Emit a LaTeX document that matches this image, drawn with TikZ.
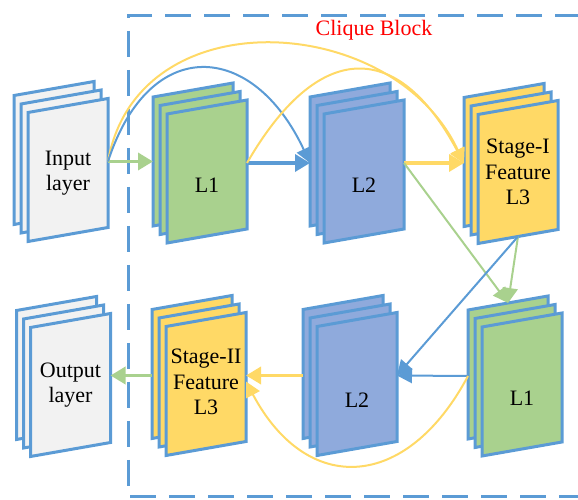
\documentclass[tikz,border=0pt]{standalone}
\usepackage{fontspec}
\setmainfont{Liberation Serif}
\usetikzlibrary{arrows.meta}

\definecolor{edgeblue}{RGB}{91,155,213}
\definecolor{l1green}{RGB}{169,209,142}
\definecolor{l2blue}{RGB}{143,170,220}
\definecolor{l3yellow}{RGB}{255,217,102}
\definecolor{iogray}{RGB}{242,242,242}

% three stacked sheets, #2,#3 = centre of the front sheet, #6 = shift of the label
\newcommand{\layerstack}[6]{%
  \foreach \k in {2,1,0}
    \filldraw[sheet, fill=#4]
      ({#2-40-7*\k},{#3-71.5+8.5*\k}) -- ({#2+40-7*\k},{#3-57.5+8.5*\k})
      -- ({#2+40-7*\k},{#3+71.5+8.5*\k}) -- ({#2-40-7*\k},{#3+57.5+8.5*\k}) -- cycle;
  \node[stackarea] (#1) at ({#2-7},{#3+8.5}) {};
  \coordinate (#1-top) at ({#2-14},{#3+81.5});
  \coordinate (#1-bot) at (#2,{#3-64.5});
  \node[stacklabel, yshift=#6] (#1-txt) at (#2,#3) {#5};
}

\begin{document}
\begin{tikzpicture}[x=1pt, y=1pt,
    sheet/.style={draw=edgeblue, line width=3pt, line join=miter},
    stackarea/.style={minimum width=94pt, minimum height=160pt, inner sep=0pt, outer sep=0pt},
    stacklabel/.style={font=\fontsize{22}{25.5}\selectfont, align=center, inner sep=0pt},
    thickarr/.style={line width=3.5pt, -{Triangle[length=15pt, width=17pt]}},
    thinarr/.style={line width=2pt, -{Triangle[length=15pt, width=15pt]}},
    frame/.style={draw=edgeblue, line width=3pt, dash pattern=on 26pt off 13pt}]

    \useasboundingbox (0,0) rectangle (578,500);

    % Clique block frame
    \draw[frame] (620,484) -- (128,484) -- (128,3) -- (620,3);
    \node[text=red, font=\fontsize{22}{25.5}\selectfont] (blocktitle) at (374,470) {Clique Block};

    % Stage I
    \layerstack{inlayer}{68}{330}{iogray}{Input\\layer}{-3pt}
    \layerstack{l1a}{207}{328.5}{l1green}{L1}{-14pt}
    \layerstack{l2a}{364}{328.5}{l2blue}{L2}{-14pt}
    \layerstack{s1}{518}{328}{l3yellow}{Stage-I\\Feature\\L3}{0pt}

    % Stage II
    \layerstack{l1b}{522}{115.5}{l1green}{L1}{-14pt}
    \layerstack{l2b}{357}{116}{l2blue}{L2}{-16pt}
    \layerstack{s2}{206}{116}{l3yellow}{Stage-II\\Feature\\L3}{2pt}
    \layerstack{outlayer}{70.5}{115}{iogray}{Output\\layer}{0pt}

    % forward path, stage I
    \draw[thickarr, l1green] (inlayer.east) -- (inlayer.east -| l1a.west);
    \draw[thickarr, edgeblue] (l1a.east) -- (l1a.east -| l2a.west);
    \draw[thickarr, l3yellow] (l2a.east) -- (l2a.east -| s1.west);

    % dense links over the top
    \draw[thinarr, l3yellow] (inlayer.east) to[out=80, in=115, looseness=1.2] (s1.west);
    \draw[thinarr, edgeblue] (inlayer.east) to[out=72, in=115, looseness=1.7] (l2a.west);
    \draw[thinarr, l3yellow] (l1a.east) to[out=60, in=118, looseness=1.67] (s1.west);

    % into stage II
    \draw[thinarr, l1green] (l2a.east) -- (l1b-top);
    \draw[thinarr, l1green] (s1-bot) -- (l1b-top);
    \draw[thinarr, edgeblue] (s1-bot) -- (l2b.east);
    \draw[thinarr, edgeblue] (l1b.west) -- (l2b.east);
    \draw[thickarr, l3yellow] (l2b.west) -- (l2b.west -| s2.east);
    \draw[thinarr, l3yellow] (l1b.west) to[out=-118, in=-62, looseness=1.5] ([yshift=-6pt]s2.east);
    \draw[thickarr, l1green] (s2.west) -- (s2.west -| outlayer.east);

\end{tikzpicture}
\end{document}
